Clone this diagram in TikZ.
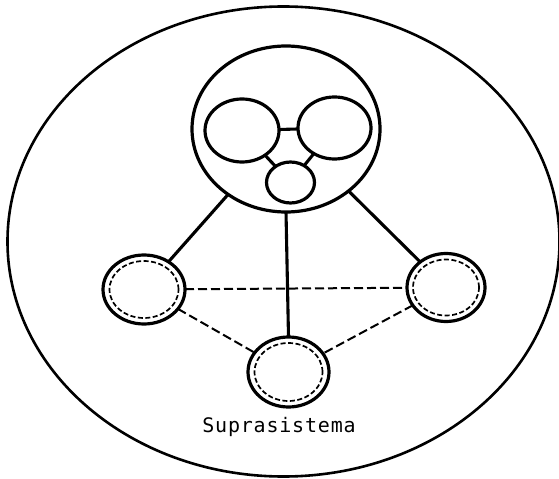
\documentclass[tikz,border=0pt]{standalone}
\usepackage{fontspec}
\newfontfamily\labfont[LetterSpace=4]{DejaVu Sans Mono}
\usetikzlibrary{shapes.geometric}
\begin{document}
\begin{tikzpicture}[x=1bp,y=-1bp,
  ell/.style={draw, ellipse, inner sep=0pt, outer sep=0pt},
  outerell/.style={ell, line width=2.6bp},
  solidell/.style={ell, line width=3.2bp},
  dashell/.style={ell, line width=1.7bp, dash pattern=on 5bp off 2.5bp},
  link/.style={line width=3.1bp},
  dlink/.style={line width=2bp, dash pattern=on 9bp off 4bp},
  lab/.style={font=\labfont\fontsize{20bp}{23bp}\selectfont, anchor=base, inner sep=0pt}]
\useasboundingbox (0,0) rectangle (559,479);
% outer suprasystem
\node[outerell, minimum width=552bp, minimum height=470bp] (supra) at (283.5,241.5) {};
% container system
\node[solidell, minimum width=188bp, minimum height=166bp] (cont) at (286,129) {};
\node[solidell, minimum width=74bp, minimum height=63bp] (ia) at (242,130.5) {};
\node[solidell, minimum width=73bp, minimum height=62bp] (ib) at (334.5,128) {};
\node[solidell, minimum width=48bp, minimum height=41bp] (ic) at (290.5,182.5) {};
\draw[link] (ia) -- (ib);
\draw[link] (ia) -- (ic);
\draw[link] (ib) -- (ic);
% peripheral systems
\node[solidell, minimum width=82bp, minimum height=69bp] (lc) at (144,289.5) {};
\node[dashell, minimum width=69bp, minimum height=57bp] (lci) at (144,289.5) {};
\node[solidell, minimum width=78bp, minimum height=68bp] (rc) at (446,287.5) {};
\node[dashell, minimum width=66bp, minimum height=56bp] (rci) at (446,287.5) {};
\node[solidell, minimum width=81bp, minimum height=70bp] (bc) at (288.5,372) {};
\node[dashell, minimum width=68bp, minimum height=58bp] (bci) at (288.5,372) {};
% links
\draw[link] (cont) -- (lc);
\draw[link] (cont) -- (rc);
\draw[link] (cont.south) -- (bc.north);
\draw[dlink] (lc) -- (rc);
\draw[dlink] (lc) -- (bc);
\draw[dlink] (rc) -- (bc);
% label
\node[lab] (t) at (279,432) {Suprasistema};
\end{tikzpicture}
\end{document}
